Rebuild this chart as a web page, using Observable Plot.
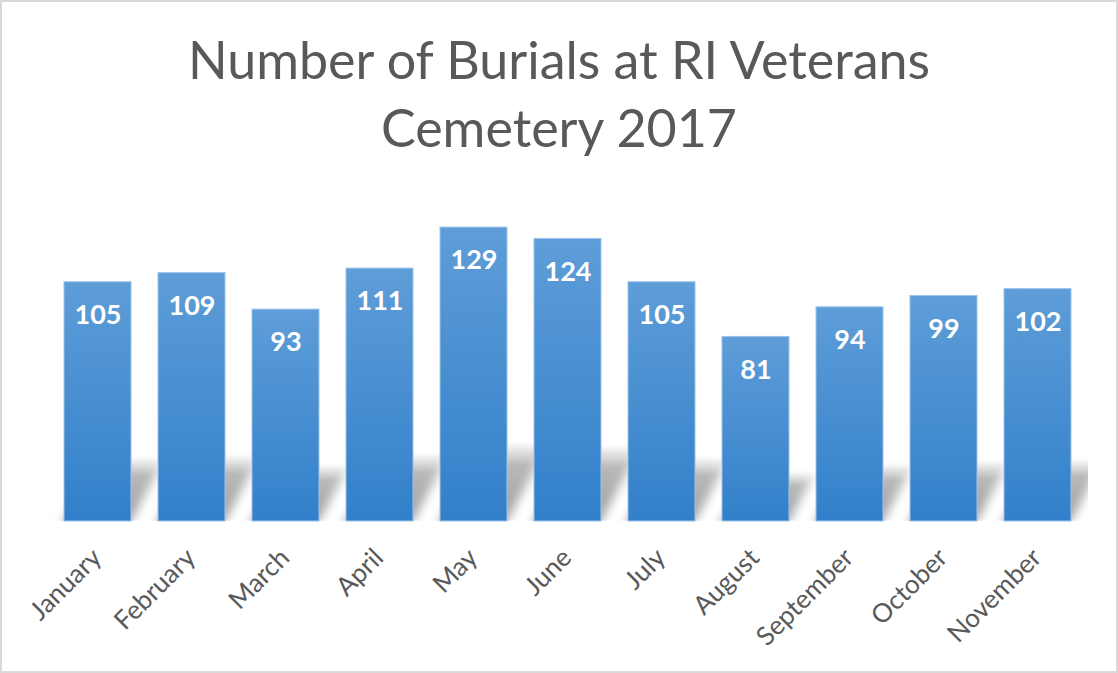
<!DOCTYPE html>
<html><head><meta charset="utf-8">
<script src="https://cdn.jsdelivr.net/npm/d3@7"></script>
<script src="https://cdn.jsdelivr.net/npm/@observablehq/plot@0.6"></script>
<style>
body{margin:0;background:#fff;}
#frame{position:relative;width:1118px;height:673px;box-sizing:border-box;border:2px solid #d9d9d9;overflow:hidden;font-family:Lato,sans-serif;background:#fff;}
#title{margin:0;padding-top:23px;height:160px;box-sizing:border-box;text-align:center;font-weight:normal;font-size:52px;line-height:68px;color:#595959;font-family:Lato,sans-serif;white-space:nowrap;}
#chart svg{display:block;}
</style></head><body>
<div id="frame"><h1 id="title">Number of Burials at RI Veterans<br>Cemetery 2017</h1><div id="chart"></div></div>
<script>
const months = ["January","February","March","April","May","June","July","August","September","October","November"];
const burials = [105,109,93,111,129,124,105,81,94,99,102];
const data = months.map((m, i) => ({month: m, count: burials[i]}));

// title block is 160px tall, so the svg starts at page y=162
const W = 1114, H = 500, MT = 40, MB = 141;
const baseY = H - MB;

const defs = () => {
  const ns = "http://www.w3.org/2000/svg";
  const d = document.createElementNS(ns, "defs");
  d.innerHTML = `
    <linearGradient id="barGrad" x1="0" y1="0" x2="0" y2="1">
      <stop offset="0" stop-color="#5e9dd8"/>
      <stop offset="1" stop-color="#3280ca"/>
    </linearGradient>
    <linearGradient id="shadowGrad" x1="0" y1="0" x2="0" y2="1">
      <stop offset="0" stop-color="#9a9a9a" stop-opacity="0"/>
      <stop offset="0.3" stop-color="#9a9a9a" stop-opacity="0.7"/>
      <stop offset="1" stop-color="#9a9a9a" stop-opacity="0.95"/>
    </linearGradient>
    <filter id="shadowBlur" x="-30%" y="-30%" width="160%" height="160%">
      <feGaussianBlur stdDeviation="6"/>
    </filter>
    <clipPath id="shadowClip"><rect x="0" y="0" width="${1088 - 2}" height="${baseY}"/></clipPath>`;
  return d;
};

const chart = Plot.plot({
  width: W,
  height: H,
  marginTop: MT,
  marginBottom: MB,
  marginLeft: 32.6,
  marginRight: 15.6,
  style: {fontFamily: "Lato, sans-serif", background: "transparent"},
  x: {domain: months, padding: 0.29, label: null},
  y: {domain: [0, 140], axis: null},
  marks: [
    defs,
    Plot.barY(data, {x: "month", y: "count", fill: "url(#shadowGrad)"}),
    Plot.barY(data, {x: "month", y: "count", fill: "url(#barGrad)", stroke: "#9cc4ea", strokeWidth: 1}),
    Plot.text(data, {x: "month", y: "count", text: d => String(d.count), dy: 33, fill: "white", fontWeight: "bold", fontSize: 27}),
    Plot.axisX({tickSize: 0, tickPadding: 32, tickRotate: -45, fontSize: 26, dx: -1, color: "#595959", label: null})
  ]
});

// perspective shadow behind the bars
const bars = d3.select(chart).selectAll('g[aria-label="bar"]').nodes();
const sh = d3.select(bars[0]);
const wrap = d3.select(chart).insert("g", () => bars[0]).attr("clip-path", "url(#shadowClip)");
wrap.node().appendChild(bars[0]);
sh.attr("transform", `translate(0,${baseY}) skewX(-28) scale(1,0.27) translate(0,${-baseY})`)
  .attr("filter", "url(#shadowBlur)");
d3.select(chart).selectAll('g[aria-label="x-axis tick label"] text').attr("fill", "#595959");
d3.select(chart).selectAll('g[aria-label="x-axis tick label"]').attr("font-size", 26);

document.getElementById("chart").appendChild(chart);
</script>
</body></html>
